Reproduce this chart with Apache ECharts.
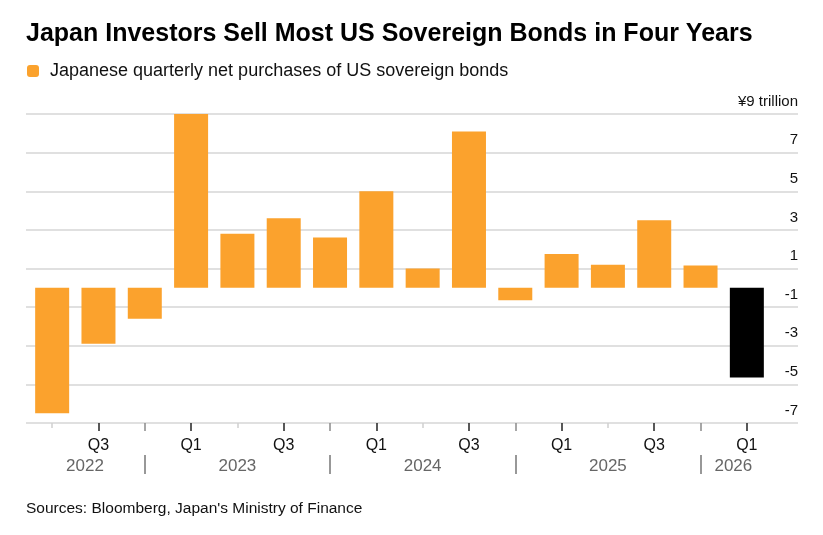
<!DOCTYPE html>
<html>
<head>
<meta charset="utf-8">
<script src="https://cdn.jsdelivr.net/npm/echarts@6/dist/echarts.min.js"></script>
<style>
  html, body { margin: 0; padding: 0; background: #fff; }
  #chart { width: 823px; height: 535px; }
</style>
</head>
<body>
<div id="chart"></div>
<script>
var quarters = ['Q2', 'Q3', 'Q4', 'Q1', 'Q2', 'Q3', 'Q4', 'Q1', 'Q2', 'Q3', 'Q4', 'Q1', 'Q2', 'Q3', 'Q4', 'Q1'];
var years = ['2022', '2022', '2022', '2023', '2023', '2023', '2023', '2024', '2024', '2024', '2024', '2025', '2025', '2025', '2025', '2026'];
var purchases = [-6.5, -2.9, -1.6, 9.1, 2.8, 3.6, 2.6, 5.0, 1.0, 8.1, -0.65, 1.75, 1.2, 3.5, 1.15, -4.65];
var yTicks = [-7, 9, 2]; // min, max, step

var FONT = '"Liberation Sans", Arial, Helvetica, sans-serif';
var ORANGE = '#FBA22D';

var categories = quarters.map(function (q, i) { return years[i] + ' ' + q; });

// year label goes on the Q2 of each full year, on Q3 for the partial first year and Q1 for the last
function yearLabelAt(i) {
  var y = years[i];
  var first = years.indexOf(y), last = years.lastIndexOf(y);
  if (last - first === 3) return quarters[i] === 'Q2';
  if (first === 0) return i === 1;
  return i === last && i === categories.length - 1;
}

var chart = echarts.init(document.getElementById('chart'));

chart.setOption({
  animation: false,
  title: [{
    text: 'Japan Investors Sell Most US Sovereign Bonds in Four Years',
    left: 26,
    top: 22,
    padding: 0,
    textStyle: { fontFamily: FONT, fontWeight: 'bold', fontSize: 25, color: '#000' }
  }, {
    text: "Sources: Bloomberg, Japan's Ministry of Finance",
    left: 26,
    top: 501,
    padding: 0,
    textStyle: { fontFamily: FONT, fontWeight: 'normal', fontSize: 15.5, color: '#111' }
  }],
  legend: {
    left: 27,
    top: 62,
    padding: 0,
    icon: 'roundRect',
    itemWidth: 12,
    itemHeight: 12,
    textStyle: { fontFamily: FONT, fontSize: 18, color: '#111', padding: [0, 0, 0, 6] },
    data: ['Japanese quarterly net purchases of US sovereign bonds']
  },
  grid: [
    // bars
    { left: 29, right: 53, top: 114, bottom: 112 },
    // gridlines + value labels, wider than the bars
    { left: 26, right: 25, top: 114, bottom: 112 }
  ],
  xAxis: [{
    // Q1 / Q3 ticks with labels
    type: 'category', gridIndex: 0, position: 'bottom', data: categories,
    axisLine: { show: false, onZero: false },
    axisTick: {
      show: true, alignWithLabel: true, length: 8,
      interval: function (i) { return quarters[i] === 'Q1' || quarters[i] === 'Q3'; },
      lineStyle: { color: '#222', width: 1.5 }
    },
    axisLabel: {
      interval: function (i) { return quarters[i] === 'Q1' || quarters[i] === 'Q3'; },
      formatter: function (v) { return v.split(' ')[1]; },
      margin: 15,
      fontFamily: FONT, fontSize: 16, color: '#111'
    }
  }, {
    // Q4 ticks
    type: 'category', gridIndex: 0, position: 'bottom', data: categories,
    axisLine: { show: false, onZero: false },
    axisTick: {
      show: true, alignWithLabel: true, length: 8,
      interval: function (i) { return quarters[i] === 'Q4'; },
      lineStyle: { color: '#8a8a8a', width: 1.5 }
    },
    axisLabel: { show: false }
  }, {
    // Q2 ticks
    type: 'category', gridIndex: 0, position: 'bottom', data: categories,
    axisLine: { show: false, onZero: false },
    axisTick: {
      show: true, alignWithLabel: true, length: 5,
      interval: function (i) { return quarters[i] === 'Q2'; },
      lineStyle: { color: '#cfcfcf', width: 1.5 }
    },
    axisLabel: { show: false }
  }, {
    // year row with separators
    type: 'category', gridIndex: 0, position: 'bottom', data: categories,
    offset: 32,
    axisLine: { show: false, onZero: false },
    axisTick: {
      show: true, alignWithLabel: true, length: 19,
      interval: function (i) { return quarters[i] === 'Q4'; },
      lineStyle: { color: '#777', width: 1.5 }
    },
    axisLabel: {
      interval: function (i) { return yearLabelAt(i); },
      formatter: function (v, i) {
        var y = v.split(' ')[0];
        return quarters[i] === 'Q2' ? y : '{s|' + y + '}';
      },
      margin: 3,
      fontFamily: FONT, fontSize: 17, color: '#666',
      rich: { s: { fontFamily: FONT, fontSize: 17, color: '#666', padding: [0, 27, 0, 0] } }
    }
  }, {
    type: 'value', gridIndex: 1, show: false
  }],
  yAxis: [{
    type: 'value', gridIndex: 0, show: false,
    min: yTicks[0], max: yTicks[1], interval: yTicks[2]
  }, {
    type: 'value', gridIndex: 1, position: 'right',
    min: yTicks[0], max: yTicks[1], interval: yTicks[2],
    axisLine: { show: false },
    axisTick: { show: false },
    splitLine: { show: true, lineStyle: { color: '#d6d6d6', width: 1.5 } },
    axisLabel: {
      inside: true, margin: 0, verticalAlign: 'bottom', padding: [0, 0, 5, 0],
      showMinLabel: true, showMaxLabel: true,
      fontFamily: FONT, fontSize: 15, color: '#111',
      formatter: function (v) { return v === yTicks[1] ? '¥' + v + ' trillion' : String(v); }
    }
  }],
  series: [{
    name: 'Japanese quarterly net purchases of US sovereign bonds',
    type: 'bar',
    xAxisIndex: 0,
    yAxisIndex: 0,
    barWidth: 34,
    itemStyle: { color: ORANGE },
    data: purchases.map(function (v, i) {
      return i === purchases.length - 1 ? { value: v, itemStyle: { color: '#000' } } : v;
    })
  }]
});
</script>
</body>
</html>
